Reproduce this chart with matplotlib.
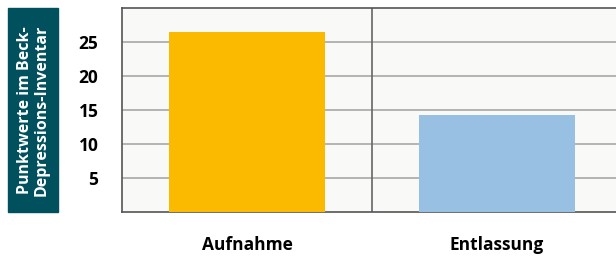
import matplotlib.pyplot as plt

# Daten
kategorien = ['Aufnahme', 'Entlassung']
werte = [26.5, 14.3]
farben = ['#FBBA00', '#97C0E2']
yticks = [5, 10, 15, 20, 25]

plt.rcParams['font.family'] = ['Open Sans', 'DejaVu Sans']

fig = plt.figure(figsize=(6.16, 2.56), dpi=100)
ax = fig.add_axes([122 / 616, 44 / 256, 500 / 616, 204 / 256])
ax.set_facecolor('#F9F9F7')

ax.bar(range(len(kategorien)), werte, width=0.624, color=farben, zorder=3)
ax.set_xlim(-0.5, 1.5)
ax.set_ylim(0, 30)

ax.set_yticks(yticks)
ax.set_yticklabels([str(t) for t in yticks], fontsize=12.5, fontweight='bold')
ax.set_xticks(range(len(kategorien)))
ax.set_xticklabels(kategorien, fontsize=12.5, fontweight='bold')
ax.tick_params(axis='y', length=0, pad=17)
ax.tick_params(axis='x', length=0, pad=17)
ax.yaxis.grid(True, color='#A8A8A8', linewidth=1.2, zorder=1)
ax.axvline(0.5, color='#666666', linewidth=1.2, zorder=2)

for s in ['left', 'bottom', 'top']:
    ax.spines[s].set_color('#555555')
    ax.spines[s].set_linewidth(1.2)
ax.spines['right'].set_visible(False)

# Teal-Kasten mit Achsentitel
fig.patches.append(plt.Rectangle((8 / 616, 44 / 256), 50 / 616, 204 / 256,
                                 transform=fig.transFigure, color='#00505E'))
fig.text(33 / 616, 146 / 256, 'Punktwerte im Beck-\nDepressions-Inventar',
         rotation=90, color='white', fontsize=11.5, fontweight='bold',
         ha='center', va='center', linespacing=1.05)

fig.savefig('out.png', dpi=100)
